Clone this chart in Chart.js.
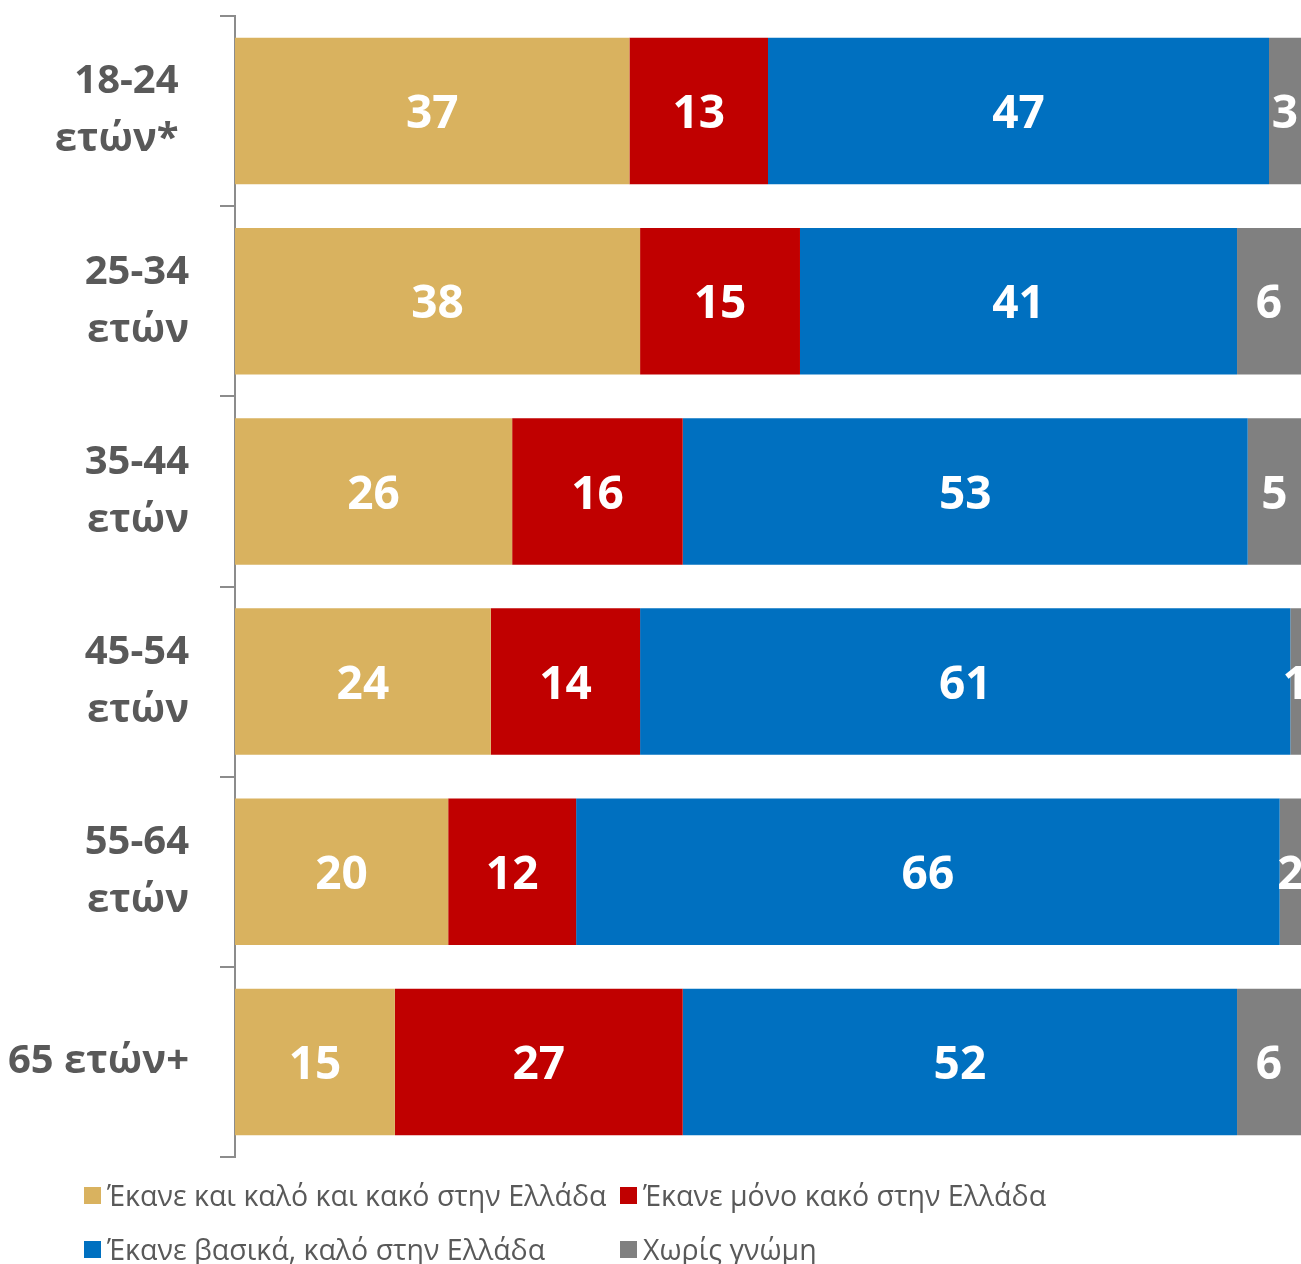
<!DOCTYPE html>
<html>
<head>
<meta charset="utf-8">
<script src="https://cdn.jsdelivr.net/npm/chart.js@4.4.1/dist/chart.umd.min.js"></script>
<style>
  body { margin: 0; background: #fff; }
  #wrap { position: relative; width: 1301px; height: 1170px; }
  .legend { position: absolute; left: 84px; top: 1168px; font-family: "Open Sans", sans-serif; font-size: 28.5px; color: #595959; }
  .row { display: flex; height: 54px; align-items: center; }
  .item { display: flex; align-items: center; }
  .item.c1 { width: 536px; }
  .sw { width: 17px; height: 17px; margin-right: 6px; }
</style>
</head>
<body>
<div id="wrap"><canvas id="grafica"></canvas></div>
<div class="legend" id="leyenda"></div>
<script>
const categorias = [
  ['18-24 ', 'ετών* '],
  ['25-34', 'ετών'],
  ['35-44', 'ετών'],
  ['45-54', 'ετών'],
  ['55-64', 'ετών'],
  '65 ετών+'
];
const series = [
  'Έκανε και καλό και κακό στην Ελλάδα',
  'Έκανε μόνο κακό στην Ελλάδα',
  'Έκανε βασικά, καλό στην Ελλάδα',
  'Χωρίς γνώμη'
];
const kaiTaDyo = [37, 38, 26, 24, 20, 15];
const monoKako = [13, 15, 16, 14, 12, 27];
const vasikaKalo = [47, 41, 53, 61, 66, 52];
const xorisGnomi = [3, 6, 5, 1, 2, 6];

const colores = ['#D9B25F', '#C00000', '#0070C0', '#808080'];

// etiquetas de valor al centro de cada segmento
const etiquetasValor = {
  id: 'etiquetasValor',
  afterDatasetsDraw(chart) {
    const ctx = chart.ctx;
    ctx.save();
    ctx.font = 'bold 46px "Open Sans"';
    ctx.fillStyle = '#ffffff';
    ctx.textAlign = 'center';
    ctx.textBaseline = 'middle';
    chart.data.datasets.forEach((ds, i) => {
      chart.getDatasetMeta(i).data.forEach((bar, j) => {
        const cx = (bar.x + bar.base) / 2;
        ctx.fillText(String(ds.data[j]), cx, bar.y + 4);
      });
    });
    ctx.restore();
  }
};

const datos = [kaiTaDyo, monoKako, vasikaKalo, xorisGnomi];

new Chart(document.getElementById('grafica').getContext('2d'), {
  type: 'bar',
  data: {
    labels: categorias,
    datasets: datos.map((d, i) => ({
      label: series[i],
      data: d,
      backgroundColor: colores[i],
      borderWidth: 0,
      categoryPercentage: 1,
      barPercentage: 0.77
    }))
  },
  options: {
    indexAxis: 'y',
    responsive: true,
    maintainAspectRatio: false,
    animation: false,
    layout: { padding: { top: 16, bottom: 13, right: 0, left: 0 } },
    scales: {
      x: { stacked: true, min: 0, max: 100, display: false },
      y: {
        stacked: true,
        afterFit(scale) {
          scale.width = 235;
          scale.paddingTop = 0;
          scale.paddingBottom = 0;
        },
        border: { display: true, color: '#8c8c8c', width: 2 },
        grid: { offset: true, drawOnChartArea: false, drawTicks: true, tickLength: 15, color: '#8c8c8c', lineWidth: 2 },
        ticks: {
          color: '#595959',
          padding: 31,
          crossAlign: 'near',
          font: { family: 'Open Sans', weight: 'bold', size: 40, lineHeight: 1.45 }
        }
      }
    },
    plugins: {
      legend: { display: false },
      tooltip: { enabled: false }
    }
  },
  plugins: [etiquetasValor]
});

// leyenda en dos columnas
const orden = [[0, 1], [2, 3]];
const leyenda = document.getElementById('leyenda');
orden.forEach(fila => {
  const r = document.createElement('div');
  r.className = 'row';
  fila.forEach((k, n) => {
    const it = document.createElement('div');
    it.className = 'item' + (n === 0 ? ' c1' : '');
    it.innerHTML = '<div class="sw" style="background:' + colores[k] + '"></div><span>' + series[k] + '</span>';
    r.appendChild(it);
  });
  leyenda.appendChild(r);
});
</script>
</body>
</html>
